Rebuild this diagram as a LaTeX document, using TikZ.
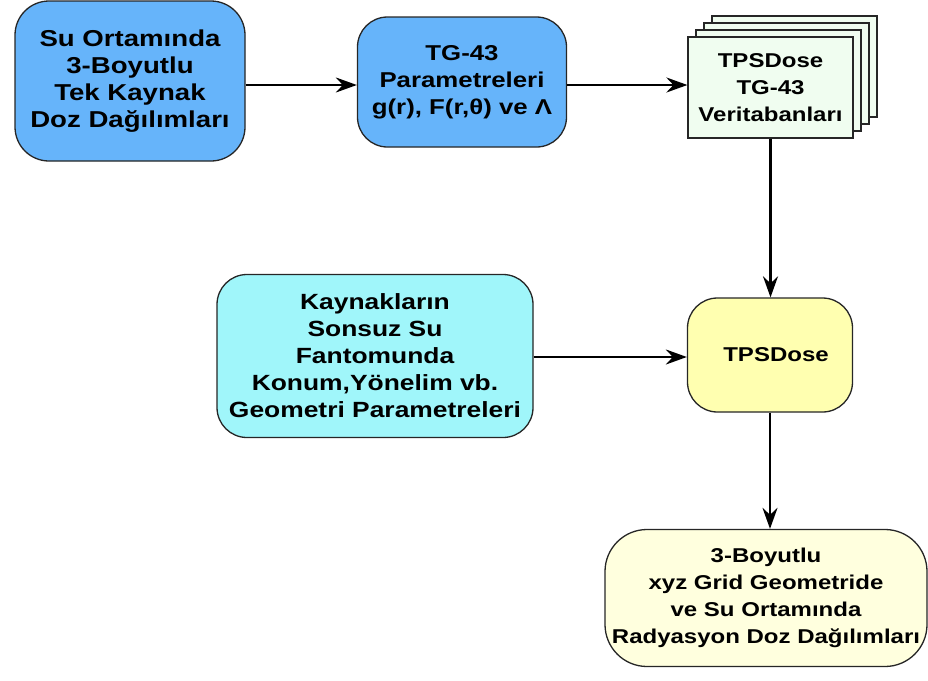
\documentclass[tikz,border=0pt]{standalone}
\usepackage{fontspec}
\newfontfamily\boxfont[FakeStretch=1.2]{Liberation Sans}
\usetikzlibrary{arrows.meta}

\definecolor{srcblue}{RGB}{102,180,250}
\definecolor{geomcyan}{RGB}{160,246,250}
\definecolor{tpsyellow}{RGB}{255,255,176}
\definecolor{rescream}{RGB}{255,255,222}
\definecolor{dbgreen}{RGB}{240,253,240}

\begin{document}
\begin{tikzpicture}[x=1pt,y=-1pt,
    box/.style={draw=black!85,line width=1.3pt,align=center,inner sep=0pt},
    fs/.style={font=\boxfont\bfseries\fontsize{#1}{27}\selectfont},
    docs/.style={draw=black!85,line width=1.2pt,fill=dbgreen},
    flow/.style={line width=2.4pt,-{Stealth[length=21pt,width=15pt,inset=7pt]}}]
  \useasboundingbox (0,0) rectangle (928,680);

  % top row
  \node[box,fs=23,fill=srcblue,rounded corners=34pt,minimum width=230pt,minimum height=160pt]
    (src) at (130,81) {Su Ortamında\\3-Boyutlu\\Tek Kaynak\\Doz Dağılımları};
  \node[box,fs=21.5,fill=srcblue,rounded corners=30pt,minimum width=209pt,minimum height=130pt]
    (tgpar) at (462,82) {TG-43\\Parametreleri\\g(r), F(r,θ) ve Λ};

  % stacked database sheets
  \foreach \k in {3,2,1}
    \draw[docs] (688+8*\k,37-7*\k) rectangle (853+8*\k,138-7*\k);
  \node[box,docs,fs=20,minimum width=165pt,minimum height=101pt]
    (db) at (770.5,87.5) {TPSDose\\TG-43\\Veritabanları};

  % middle row
  \node[box,fs=22,fill=geomcyan,rounded corners=30pt,minimum width=316pt,minimum height=163pt]
    (geom) at (375,356) {Kaynakların\\Sonsuz Su\\Fantomunda\\Konum,Yönelim vb.\\Geometri Parametreleri};
  \node[box,fs=20,fill=tpsyellow,rounded corners=30pt,minimum width=165pt,minimum height=114pt]
    (tps) at (770,355) {\hspace*{12pt}TPSDose};

  % result
  \node[box,fs=20,fill=rescream,rounded corners=42pt,minimum width=322pt,minimum height=137pt]
    (result) at (766,598) {3-Boyutlu\\xyz Grid Geometride\\ve Su Ortamında\\Radyasyon Doz Dağılımları};

  \draw[flow] (src.east |- 0,85) -- (tgpar.west |- 0,85);
  \draw[flow] (tgpar.east |- 0,85) -- (db.west |- 0,85);
  \draw[flow] (db.south) -- (db.south |- tps.north);
  \draw[flow] (geom.east |- 0,357) -- (tps.west |- 0,357);
  \draw[flow] (tps.south) -- (tps.south |- result.north);
\end{tikzpicture}
\end{document}
